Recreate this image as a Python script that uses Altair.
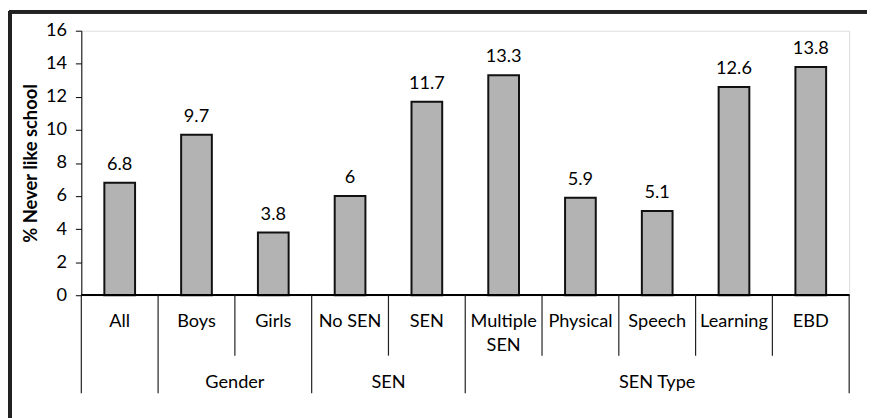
import altair as alt
import pandas as pd

categories = ["All", "Boys", "Girls", "No SEN", "SEN", "Multiple\nSEN",
              "Physical", "Speech", "Learning", "EBD"]
values = [6.8, 9.7, 3.8, 6, 11.7, 13.3, 5.9, 5.1, 12.6, 13.8]
value_labels = ["6.8", "9.7", "3.8", "6", "11.7", "13.3", "5.9", "5.1", "12.6", "13.8"]
groups = ["", "Gender", "Gender", "SEN", "SEN", "SEN Type", "SEN Type",
          "SEN Type", "SEN Type", "SEN Type"]
y_ticks = [0, 2, 4, 6, 8, 10, 12, 14, 16]

FONT = "Lato"
FS = 18.3

n = len(categories)
bars = pd.DataFrame({
    "i": list(range(n)),
    "cat": categories,
    "val": values,
    "lab": value_labels,
})
bars["x0"] = bars["i"] + 0.3
bars["x1"] = bars["i"] + 0.7
bars["xc"] = bars["i"] + 0.5

# separators between categories
sep_rows = []
for b in range(n + 1):
    tall = b == 0 or b == n or groups[b - 1] != groups[b]
    sep_rows.append({"b": b, "tall": tall})
seps = pd.DataFrame(sep_rows)
seps_tall = seps[seps["tall"]]
seps_short = seps[~seps["tall"]]

# group labels
grp_rows = []
for g in dict.fromkeys(groups):
    if not g:
        continue
    idx = [k for k, v in enumerate(groups) if v == g]
    grp_rows.append({"g": g, "xc": (idx[0] + idx[-1] + 1) / 2})
grps = pd.DataFrame(grp_rows)

W, H = 775, 267
xs = alt.Scale(domain=[0, n], nice=False, zero=False)
ys = alt.Scale(domain=[0, 16], nice=False)

bar = alt.Chart(bars).mark_bar(
    color="#b3b3b3", stroke="#111111", strokeWidth=2
).encode(
    x=alt.X("x0:Q", scale=xs, axis=None),
    x2="x1:Q",
    y=alt.Y("val:Q", scale=ys,
            axis=alt.Axis(title="% Never like school", values=y_ticks,
                          tickCount=9,
                          grid=False, tickSize=6, tickColor="#000000",
                          domainColor="#000000", labelFont=FONT,
                          labelFontSize=FS, labelColor="#000000",
                          labelOverlap=False, labelPadding=9,
                          labelFlush=False, titleFont=FONT,
                          titleFontSize=18.5, titleFontWeight="bold",
                          titleColor="#000000", titlePadding=5)),
    y2=alt.datum(0),
)

vlab = alt.Chart(bars).mark_text(
    font=FONT, fontSize=FS, color="#000000", baseline="bottom", dy=-9
).encode(
    x=alt.X("xc:Q", scale=xs, axis=None),
    y=alt.Y("val:Q", scale=ys, axis=None),
    text="lab:N",
)

zero = alt.Chart(bars).mark_rule(color="#000000", strokeWidth=1.5).encode(
    x=alt.value(0), x2=alt.value(W), y=alt.value(H)
)

sep_t = alt.Chart(seps_tall).mark_rule(color="#222222", strokeWidth=1.2).encode(
    x=alt.X("b:Q", scale=xs, axis=None),
    y=alt.value(H),
    y2=alt.value(366),
)
sep_s = alt.Chart(seps_short).mark_rule(color="#222222", strokeWidth=1.2).encode(
    x=alt.X("b:Q", scale=xs, axis=None),
    y=alt.value(H),
    y2=alt.value(328),
)

clab = alt.Chart(bars).mark_text(
    font=FONT, fontSize=FS, color="#000000", baseline="middle",
    lineBreak="\n", lineHeight=24
).encode(
    x=alt.X("xc:Q", scale=xs, axis=None),
    y=alt.value(H + 27),
    text="cat:N",
)

glab = alt.Chart(grps).mark_text(
    font=FONT, fontSize=FS, color="#000000", baseline="middle"
).encode(
    x=alt.X("xc:Q", scale=xs, axis=None),
    y=alt.value(H + 89),
    text="g:N",
)

frame_top = alt.Chart(bars).mark_rule(color="#222222", strokeWidth=3).encode(
    x=alt.value(-73), x2=alt.value(W + 20), y=alt.value(-19)
)
frame_left = alt.Chart(bars).mark_rule(color="#222222", strokeWidth=3).encode(
    x=alt.value(-72), y=alt.value(-20), y2=alt.value(H + 130)
)

chart = alt.layer(bar, vlab, zero, sep_t, sep_s, clab, glab, frame_top, frame_left).resolve_axis(
    y="independent", x="independent"
).properties(
    width=W, height=H,
    autosize=alt.AutoSizeParams(type="none"),
    padding={"left": 74, "top": 21, "right": 18, "bottom": 122},
).configure_view(stroke="#888888", strokeWidth=1.5).configure(background="white")

chart.save("out.html", embed_options={"renderer": "svg", "actions": False})
